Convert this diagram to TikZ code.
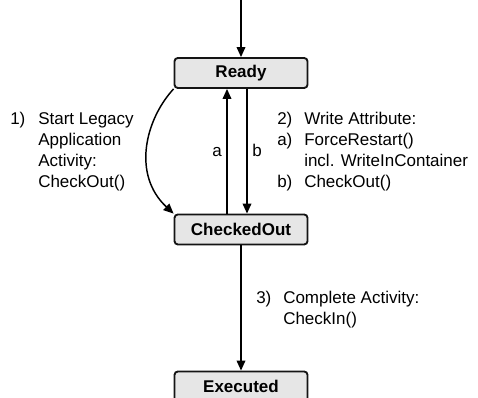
\documentclass[tikz,border=0pt]{standalone}
\usepackage{fontspec}
\setmainfont{Liberation Sans}
\usetikzlibrary{arrows.meta}

\definecolor{statefill}{RGB}{230,230,230}
\definecolor{stateline}{RGB}{20,20,20}

\tikzset{
  state/.style={draw=stateline, fill=statefill, line width=1.4pt, rounded corners=2.5pt,
    minimum width=99.75pt, minimum height=22.5pt, inner sep=0pt,
    font=\fontsize{12.75}{15.75}\selectfont\bfseries},
  trans/.style={line width=1.1pt, -{Triangle[length=7.5pt,width=6.5pt]}},
  note/.style={anchor=base west, inner sep=0pt, align=left}
}

\begin{document}
\begin{tikzpicture}[x=0.75pt, y=-0.75pt, font=\fontsize{12.75}{15.75}\selectfont]
  \useasboundingbox (0,0) rectangle (478,398);

  % Draw states
  \node[state] (ready) at (241,73) {Ready};
  \node[state] (checked) at (241,229.5) {CheckedOut};
  \node[state] (executed) at (241,386.5) {Executed};
  \coordinate (entry) at (241,0);

  % Draw transitions
  \draw[trans] (entry) -- (ready);
  \draw[trans] (ready.south west) .. controls (145,120) and (132,175) .. (checked.north west);
  \draw[trans] ([xshift=-10.5pt]checked.north) -- ([xshift=-10.5pt]ready.south);
  \draw[trans] ([xshift=4.5pt]ready.south) -- ([xshift=4.5pt]checked.north);
  \draw[trans] (checked) -- (executed);

  % Labels of the two arrows
  \node[anchor=base, inner sep=0pt] (la) at (217,157) {a};
  \node[anchor=base, inner sep=0pt] (lb) at (257,157) {b};

  % Add notes (placed at the baseline of their last line)
  \node[note] (n1) at (10,125) {1)};
  \node[note] (t1) at (38,188) {Start Legacy\\Application\\Activity:\\CheckOut()};
  \node[note] (n2) at (277,188) {2)\\a)\\\\b)};
  \node[note] (t2) at (304,188) {Write Attribute:\\ForceRestart()\\incl. WriteInContainer\\CheckOut()};
  \node[note] (n3) at (256,304) {3)};
  \node[note] (t3) at (283,325) {Complete Activity:\\CheckIn()};

\end{tikzpicture}
\end{document}
